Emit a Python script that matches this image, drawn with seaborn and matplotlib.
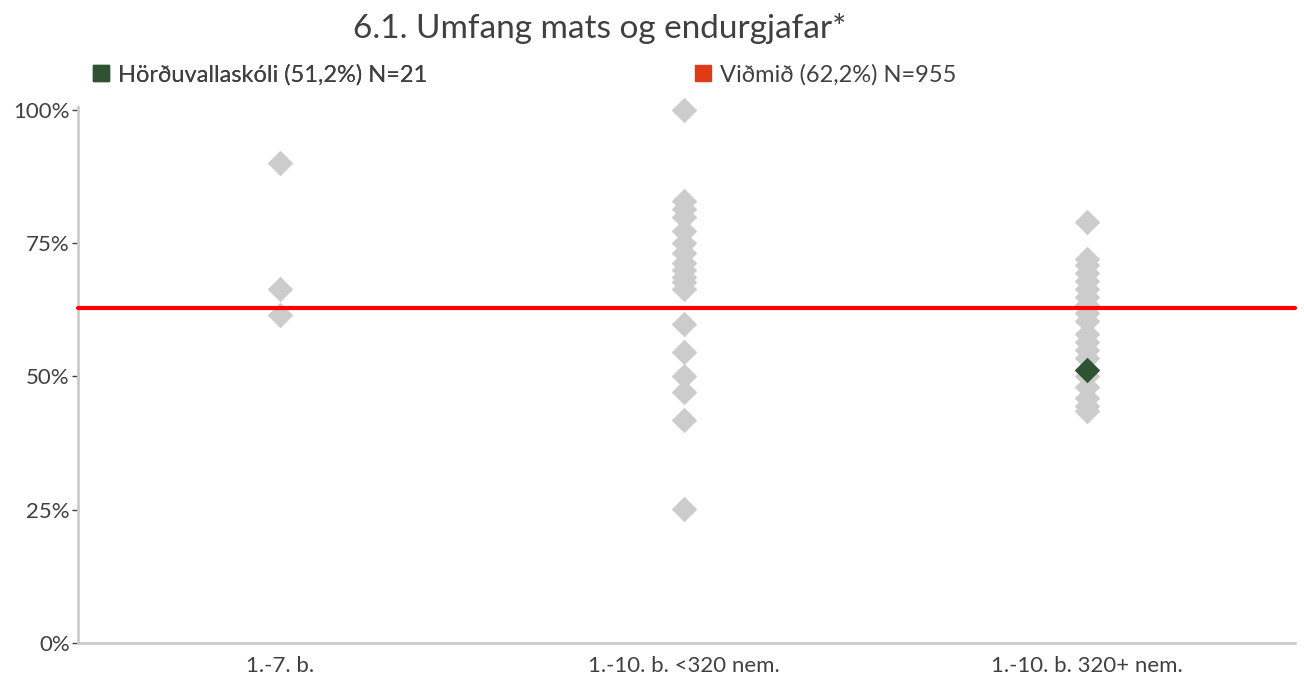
import matplotlib
matplotlib.use("Agg")
import matplotlib.pyplot as plt
from matplotlib.lines import Line2D
import seaborn as sns
import pandas as pd

# ---- data ----
categories = ["1.-7. b.", "1.-10. b. <320 nem.", "1.-10. b. 320+ nem."]
cat1_values = [90.0, 66.5, 61.5]
cat2_values = [100.0, 82.9, 81.5, 80.0, 77.2, 75.0, 73.1, 71.2, 70.0, 68.7, 67.8,
               66.4, 59.8, 54.5, 50.1, 47.1, 41.8, 25.1]
cat3_values = [79.0, 72.0, 71.0, 69.5, 68.0, 66.5, 65.0, 63.5, 62.0, 60.5, 58.0,
               56.5, 55.0, 53.5, 50.0, 48.0, 46.0, 44.5, 43.5]
school_category = "1.-10. b. 320+ nem."
school_value = 51.2
benchmark_value = 62.8
yticks = [0, 25, 50, 75, 100]
ytick_labels = ["0%", "25%", "50%", "75%", "100%"]
title = "6.1. Umfang mats og endurgjafar*"
legend_school = "Hörðuvallaskóli (51,2%) N=21"
legend_bench = "Viðmið (62,2%) N=955"

df = pd.DataFrame({
    "cat": [categories[0]] * len(cat1_values) + [categories[1]] * len(cat2_values)
           + [categories[2]] * len(cat3_values),
    "val": cat1_values + cat2_values + cat3_values,
})
df_school = pd.DataFrame({"cat": [school_category], "val": [school_value]})

sns.set_theme(style="white")
plt.rcParams["font.family"] = ["Lato", "DejaVu Sans"]

TXT = "#404040"
GREY = "#cccccc"
GREEN = "#2f5233"

fig = plt.figure(figsize=(13.04, 6.73), dpi=100)
ax_left, ax_right = 78, 1289
ax = fig.add_axes([ax_left / 1304, 1 - 643 / 673, (ax_right - ax_left) / 1304, 535.7 / 673])

sns.stripplot(data=df, x="cat", y="val", order=categories, jitter=False,
              marker="D", size=13, color=GREY, linewidth=0, ax=ax, zorder=2)
ax.axhline(benchmark_value, xmin=0, xmax=(1295 - ax_left) / (ax_right - ax_left),
           color="#ff0000", lw=3, zorder=3, clip_on=False)
sns.stripplot(data=df_school, x="cat", y="val", order=categories, jitter=False,
              marker="D", size=13, color=GREEN, linewidth=0, ax=ax, zorder=4)
for coll in ax.collections:
    coll.set_clip_on(False)

ax.set_xlim(-0.5, 2.5)
ax.set_ylim(0, 100.5)
ax.set_yticks(yticks)
ax.set_yticklabels(ytick_labels)
ax.set_xlabel("")
ax.set_ylabel("")
for s in ["top", "right"]:
    ax.spines[s].set_visible(False)
for s in ["left", "bottom"]:
    ax.spines[s].set_color(GREY)
    ax.spines[s].set_linewidth(2)
ax.spines["bottom"].set_bounds(-0.5, 2.5 + 6 / 404)
ax.tick_params(axis="y", left=True, length=4, width=1, color=TXT, labelsize=16,
               labelcolor=TXT, pad=2)
ax.tick_params(axis="x", bottom=False, labelsize=16, labelcolor=TXT, pad=3)

fig.text(600 / 1304, 1 - 28 / 673, title, ha="center", va="center",
         fontsize=24, color=TXT)

h1 = [Line2D([], [], marker="s", ls="none", color=GREEN, markersize=12)]
h2 = [Line2D([], [], marker="s", ls="none", color="#e03a16", markersize=12)]
leg_kw = dict(loc="center left", frameon=False, handletextpad=0.2,
              handlelength=1.0, labelcolor=TXT, borderaxespad=0,
              prop={"size": 17})
leg1 = fig.legend(h1, [legend_school], bbox_to_anchor=(80 / 1304, 1 - 75 / 673), **leg_kw)
leg2 = fig.legend(h2, [legend_bench], bbox_to_anchor=(682 / 1304, 1 - 75 / 673), **leg_kw)
fig.add_artist(leg1)

fig.savefig("out.png", dpi=100)
